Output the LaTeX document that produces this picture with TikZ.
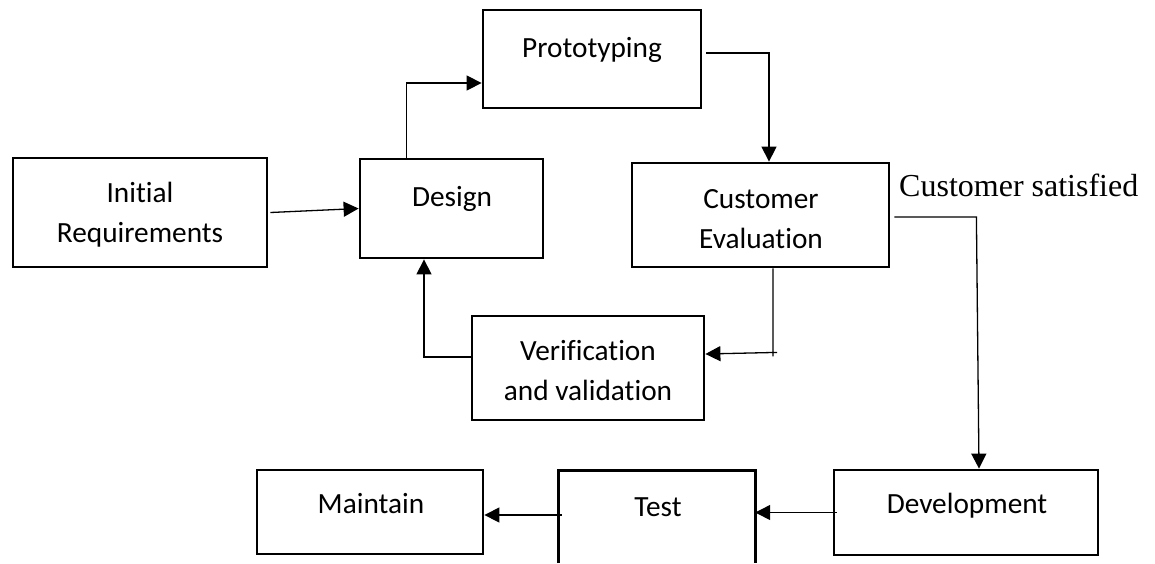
\documentclass[tikz,border=0pt]{standalone}
\usepackage{fontspec}
\setmainfont{Carlito}[Ligatures=NoCommon]
\newfontfamily\serifnote{Liberation Serif}
\usepackage{tikz}
\usetikzlibrary{positioning, fit, calc, arrows.meta}

\begin{document}
\begin{tikzpicture}[x=1pt, y=-1pt,
	box/.style={draw, line width=2.8pt, inner sep=0pt},
	lbl/.style={font=\fontsize{29.3}{40}\selectfont, align=center, anchor=base, inner sep=0pt},
	arr/.style={line width=1.3pt, -{Triangle[length=15pt, width=15pt]}}]
	\useasboundingbox (0,0) rectangle (1155,563);
	% process boxes
	\node[box, fit={(13,158) (267,267)}] (init) {};
	\node[box, fit={(360,159) (543,258)}] (design) {};
	\node[box, fit={(483,10) (701,108)}] (proto) {};
	\node[box, fit={(632,163) (889,267)}] (eval) {};
	\node[box, fit={(472,316) (704,420)}] (verif) {};
	\node[box, fit={(257,470) (483,554)}] (maint) {};
	\node[inner sep=0pt, fit={(559,471) (755,563)}] (test) {};
	\draw[line width=2.8pt] (test.south west) |- (test.north east) -- (test.south east);
	\node[box, fit={(834,470) (1098,555)}] (dev) {};
	% box texts (two-line texts sit on their last baseline)
	\node[lbl] (initlbl) at (140,242) {Initial\\Requirements};
	\node[lbl] (designlbl) at (452,206) {Design};
	\node[lbl] (protolbl) at (592,57) {Prototyping};
	\node[lbl] (evallbl) at (761,248) {Customer\\Evaluation};
	\node[lbl] (veriflbl) at (588,400) {Verification\\and validation};
	\node[lbl] (maintlbl) at (371,513) {Maintain};
	\node[lbl] (testlbl) at (658,516) {Test};
	\node[lbl] (devlbl) at (967,513) {Development};
	\node[font=\serifnote\fontsize{32}{38}\selectfont, anchor=base west, inner sep=0pt] (satisfied) at (899,196) {Customer satisfied};
	% connectors
	\draw[arr] ([xshift=2pt]init.east) -- (design.west);
	\draw[arr] ([xshift=48pt]design.north west) |- ([yshift=-24pt]proto.west);
	\draw[arr] ([shift={(4pt,6pt)}]proto.east) -| ([xshift=8.5pt]eval.north);
	\draw[arr] ([xshift=12.5pt]eval.south) -- ++(0,88) ++(4,-4) -- ([yshift=14pt]verif.east);
	\draw[arr] ([yshift=11pt]verif.west) -| ([xshift=-27.5pt]design.south);
	\draw[arr] ([shift={(4pt,-2pt)}]eval.east) -- ++(82,0) -- ([xshift=13pt]dev.north);
	\draw[arr] ([xshift=4pt]dev.west) -- (dev.west -| test.east);
	\draw[arr] ([shift={(3pt,2pt)}]test.west) -- ($(maint.east |- test.west)+(0,-2)$);
\end{tikzpicture}
\end{document}
